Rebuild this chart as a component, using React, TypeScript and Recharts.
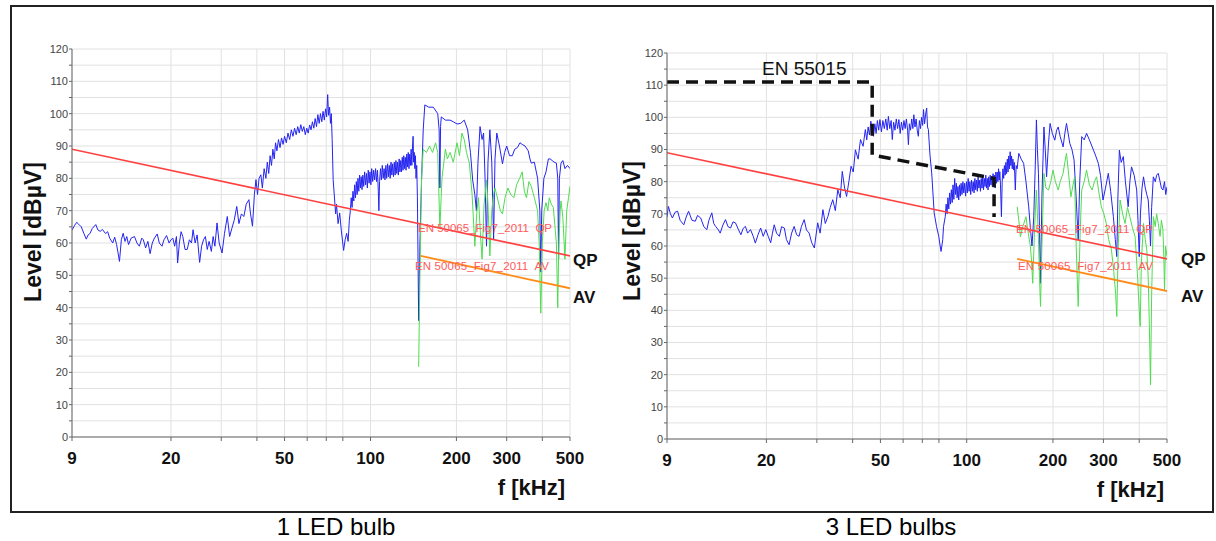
import React from 'react';
import { LineChart, Line, XAxis, YAxis, CartesianGrid } from 'recharts';

// axis ticks (kHz, dBµV)
const freqTicks = [9, 20, 30, 40, 50, 60, 70, 80, 100, 200, 300, 400, 500];
const freqLabels = [9, 20, 50, 100, 200, 300, 500];
const levelTicks = [0, 5, 10, 15, 20, 25, 30, 35, 40, 45, 50, 55, 60, 65, 70, 75, 80, 85, 90, 95, 100, 105, 110, 115, 120];
const levelLabels = [0, 10, 20, 30, 40, 50, 60, 70, 80, 90, 100, 110, 120];

// limit lines [kHz, dBµV]
const limitQp = [[9, 89], [500, 56]];
const limitAv = [[150, 56], [500, 46]];
const limitEn55015 = [[9, 111], [46.8, 111], [46.8, 88.3], [124.6, 81], [124.6, 69]];

// 1 LED bulb, peak trace
const oneBulbPeak = [
  [9.0, 64], [9.2, 65.5], [9.35, 66.4], [9.5, 65.8], [9.7, 65], [9.9, 63], [10.1, 61.2], [10.25, 62.5],
  [10.4, 62.9], [10.6, 64.5], [10.9, 65.7], [11.1, 64], [11.3, 63.6], [11.5, 64.2], [11.8, 62.9], [12.0, 63.5],
  [12.2, 61.5], [12.5, 60], [12.7, 61.8], [12.9, 59.5], [13.2, 54.3], [13.4, 61], [13.6, 63], [13.8, 60.5],
  [14.0, 62], [14.2, 59.5], [14.5, 61.5], [14.9, 62], [15.2, 60], [15.5, 59], [15.8, 61.5], [16.0, 61],
  [16.3, 58.5], [16.6, 60.5], [16.9, 56.7], [17.2, 60], [17.5, 61.5], [17.9, 62.8], [18.2, 60], [18.6, 59],
  [18.9, 61], [19.3, 62.3], [19.7, 60], [20.0, 61], [20.3, 61.5], [20.6, 59], [20.9, 62], [21.1, 53.8],
  [21.4, 60], [21.7, 63.5], [22.0, 62], [22.4, 58], [22.8, 58], [23.2, 61], [23.6, 60], [23.9, 64.1],
  [24.3, 60], [24.7, 62.5], [25.2, 54], [25.6, 59], [26.0, 61], [26.4, 62], [26.8, 58], [27.2, 60.5],
  [27.7, 57.4], [28.1, 62], [28.5, 59], [29.0, 66.2], [29.5, 60], [30.2, 56.9], [30.8, 63], [31.5, 68.2],
  [32.1, 62], [32.7, 64.6], [33.3, 67], [34.0, 71.3], [34.6, 66], [35.3, 69], [36.0, 68.2], [36.7, 72],
  [37.5, 73.4], [38.0, 69], [38.6, 65.2], [39.2, 75], [39.7, 79.6], [40.2, 75], [40.7, 80], [41.3, 81.1],
  [41.8, 77], [42.4, 83], [43.0, 80], [43.5, 85], [44.0, 81.5], [44.5, 87], [45.0, 84], [45.5, 89],
  [46.0, 86], [46.5, 91], [47.0, 88.5], [47.6, 92], [48.2, 89.5], [48.8, 92.5], [49.4, 90.5], [50.0, 93],
  [50.7, 91], [51.4, 94], [52.1, 92], [52.8, 95], [53.5, 93], [54.2, 95.5], [54.9, 93.5], [55.6, 96],
  [56.3, 94], [57.0, 96.6], [57.7, 94.5], [58.4, 96], [59.1, 93.5], [59.8, 95.5], [60.5, 94], [61.2, 96.5],
  [61.9, 95], [62.6, 97.5], [63.3, 95.5], [64.0, 98.5], [64.7, 96], [65.4, 99.7], [66.1, 97], [66.8, 100],
  [67.5, 97.5], [68.2, 100.7], [68.9, 98], [69.6, 101.5], [70.2, 99], [70.8, 105.9], [71.3, 99.5], [71.9, 102],
  [72.4, 97], [72.9, 100], [73.4, 92], [74.0, 79.6], [75.5, 69], [76.0, 72], [77.0, 66], [78.0, 69.3],
  [79.0, 64], [80.5, 57.7], [81.5, 61], [82.5, 63], [83.5, 60.5], [84.3, 67], [85.0, 70], [85.6, 74],
  [86.2, 71], [86.8, 76], [87.4, 73], [88.0, 78], [88.6, 74], [89.2, 79], [89.8, 75], [90.4, 80],
  [91.0, 76], [91.6, 81], [92.2, 77], [92.8, 80.5], [93.4, 76.5], [94.0, 81], [94.7, 77.5], [95.4, 82],
  [96.1, 78], [96.8, 81.5], [97.5, 77], [98.2, 82.5], [98.9, 78.5], [99.6, 82], [100.3, 78], [101.0, 83],
  [101.8, 79], [102.6, 82.5], [103.4, 79.5], [104.2, 83], [105.0, 79], [105.8, 82.5], [106.5, 76], [107.0, 70],
  [107.6, 79], [108.4, 83], [109.2, 79.5], [110.0, 84], [110.8, 80], [111.6, 83], [112.4, 79.5], [113.2, 84],
  [114.0, 80], [114.8, 84.5], [115.6, 80.5], [116.4, 84], [117.2, 80], [118.0, 85], [118.8, 81], [119.6, 84.5],
  [120.4, 80.5], [121.2, 85], [122.0, 81], [122.8, 85.5], [123.6, 81.5], [124.4, 85], [125.2, 81], [126.0, 86],
  [126.8, 82], [127.6, 85.5], [128.4, 82], [129.2, 86.5], [130.0, 82.5], [130.8, 87], [131.6, 83], [132.4, 86.5],
  [133.2, 82.5], [134.0, 87.5], [134.8, 83.5], [135.6, 88], [136.4, 83], [137.2, 87.5], [138.0, 84], [138.8, 89],
  [139.6, 84], [140.4, 90], [141.0, 93], [141.6, 85], [142.3, 88], [143.0, 83], [143.7, 87], [144.4, 80],
  [145.2, 84], [146.0, 74.3], [147.5, 36], [149.0, 60], [151.0, 79.5], [153.0, 95], [155.0, 102.7], [160.0, 102],
  [166.0, 102], [172.0, 100], [174.0, 95], [175.0, 77], [176.0, 96], [177.0, 99], [183.0, 98], [190.0, 98],
  [195.0, 97.5], [201.0, 96.8], [207.0, 97], [213.0, 98], [219.0, 95], [224.0, 88], [228.0, 79.5], [232.0, 75],
  [235.0, 70], [238.0, 85], [242.0, 96], [246.0, 92], [249.0, 94], [252.0, 80], [255.0, 59], [258.0, 85],
  [262.0, 95], [266.0, 85], [270.0, 61], [273.0, 86], [277.0, 94], [283.0, 90], [290.0, 84.5], [295.0, 88],
  [300.0, 90], [307.0, 87], [314.0, 87], [320.0, 89], [327.0, 89.5], [334.0, 91], [340.0, 90.5], [348.0, 90],
  [357.0, 88.5], [362.0, 86], [366.0, 84.7], [375.0, 85], [385.0, 80], [392.0, 70], [395.0, 51], [398.0, 70],
  [405.0, 80], [412.0, 82], [420.0, 86], [426.0, 86], [433.0, 85.5], [440.0, 85], [448.0, 84.7], [453.0, 80],
  [456.0, 55], [459.0, 80], [465.0, 84.7], [472.0, 85.5], [480.0, 83], [490.0, 84], [500.0, 83],
];

// 1 LED bulb, average trace
const oneBulbAvg = [
  [147.5, 21.7], [149.0, 50], [151.0, 80], [153.0, 89], [157.0, 88], [161.0, 90], [165.0, 88], [169.0, 91],
  [172.0, 88], [175.0, 64.5], [178.0, 80], [183.0, 89], [186.0, 86], [190.0, 88], [195.0, 85], [201.0, 91],
  [205.0, 87], [209.0, 94], [213.0, 92], [217.0, 88], [222.0, 84.7], [227.0, 75], [232.0, 59], [236.0, 70],
  [239.0, 74], [243.0, 62], [246.0, 55], [250.0, 72], [255.0, 79.5], [258.0, 72], [262.0, 56], [266.0, 70],
  [270.0, 75], [273.0, 77], [280.0, 73], [285.0, 70], [290.0, 69], [296.0, 74], [303.0, 77], [310.0, 75],
  [318.0, 74], [325.0, 78], [333.0, 80], [340.0, 82], [346.0, 76], [352.0, 74], [359.0, 79], [366.0, 77.5],
  [375.0, 74], [385.0, 70], [390.0, 60], [395.0, 38.3], [400.0, 60], [406.0, 70], [412.0, 72.5], [418.0, 70],
  [423.0, 74], [430.0, 72], [437.0, 71], [443.0, 65], [448.0, 60], [453.0, 40], [457.0, 60], [462.0, 70],
  [465.0, 73], [472.0, 68], [480.0, 55], [487.0, 70], [494.0, 74], [500.0, 77.5],
];

// 3 LED bulbs, peak trace
const threeBulbPeak = [
  [9.0, 69], [9.1, 72.3], [9.25, 70], [9.4, 68.7], [9.6, 70.5], [9.8, 70.8], [10.0, 68], [10.3, 66.6],
  [10.5, 69], [10.7, 70.8], [11.0, 68], [11.3, 67.7], [11.5, 69.5], [11.8, 68.7], [12.1, 66], [12.4, 65.1],
  [12.6, 68], [12.9, 70.3], [13.1, 67], [13.3, 66.1], [13.6, 65], [13.8, 64], [14.1, 66.5], [14.4, 68.2],
  [14.7, 66], [15.0, 65.6], [15.3, 67.5], [15.6, 67.2], [16.0, 65], [16.3, 63.5], [16.6, 65.5], [16.9, 66.1],
  [17.2, 64], [17.6, 65.1], [18.0, 63], [18.3, 60.9], [18.7, 63.5], [19.1, 65.6], [19.5, 63], [19.9, 65.1],
  [20.3, 63], [20.7, 61], [21.0, 64], [21.3, 66.6], [21.7, 64], [22.2, 63], [22.6, 66], [23.1, 65.6],
  [23.5, 62], [24.0, 60.4], [24.5, 64], [25.0, 66.1], [25.5, 63.5], [26.0, 63], [26.5, 66], [27.1, 68.2],
  [27.6, 65], [28.2, 64], [28.8, 61], [29.4, 59.4], [30.2, 67.2], [30.8, 64], [31.5, 71.3], [32.1, 67],
  [32.8, 69.2], [33.4, 72], [34.1, 74.4], [34.8, 71], [35.5, 77.5], [36.2, 75], [36.8, 83.2], [37.5, 78],
  [38.1, 75.4], [38.8, 80], [39.5, 84.8], [40.2, 83], [40.9, 89.9], [41.8, 87], [42.6, 93.1], [43.5, 91],
  [44.3, 96.2], [44.8, 93], [45.3, 97], [45.8, 94.5], [46.3, 98.8], [46.8, 95], [47.3, 94.1], [47.8, 98],
  [48.3, 95], [48.8, 99], [49.3, 96], [49.8, 99.3], [50.4, 95.5], [51.0, 99], [51.6, 96.5], [52.2, 99.5],
  [52.8, 96], [53.3, 100.3], [53.9, 96.5], [54.5, 99], [55.0, 93.1], [55.6, 98.5], [56.2, 96], [56.8, 99.5],
  [57.4, 96.5], [58.0, 99.3], [58.6, 95], [59.2, 98.5], [59.8, 96], [60.4, 99], [61.0, 96.5], [61.6, 99.5],
  [62.2, 96], [62.6, 91.5], [63.1, 98], [63.7, 96], [64.3, 99.5], [64.9, 96.5], [65.4, 100.8], [66.0, 97],
  [66.6, 99.5], [67.2, 96], [67.8, 94.1], [68.4, 99], [69.0, 96.5], [69.6, 100], [70.2, 97.5], [70.7, 102.4],
  [71.3, 98], [71.9, 101], [72.5, 102.9], [73.0, 97], [73.5, 96.2], [74.0, 92], [74.5, 88], [75.5, 82.7],
  [77.0, 70.3], [78.5, 66], [79.9, 63], [80.8, 60], [81.4, 58.3], [82.5, 62], [83.0, 66], [84.2, 69.2],
  [84.8, 73], [85.4, 70], [86.0, 75], [86.6, 71.5], [87.2, 76.5], [87.8, 73], [88.4, 77.5], [89.0, 73.5],
  [89.6, 79], [90.2, 74.5], [90.8, 81], [91.4, 76], [92.0, 79.5], [92.6, 75], [93.2, 78.5], [93.8, 74.3],
  [94.4, 79], [95.0, 75.5], [95.6, 79.5], [96.3, 76], [97.0, 80], [97.7, 76.5], [98.4, 79.5], [99.1, 75.5],
  [99.8, 80], [100.5, 76.5], [101.2, 81], [101.9, 77], [102.6, 80], [103.3, 76], [104.0, 80.5], [104.7, 77],
  [105.4, 80], [106.1, 76.5], [106.8, 81], [107.5, 77.5], [108.2, 80.5], [108.9, 77], [109.6, 81.5], [110.3, 78],
  [111.0, 80.5], [111.7, 77], [112.4, 81], [113.1, 78], [113.8, 81.5], [114.5, 77.5], [115.2, 81], [115.9, 78.5],
  [116.6, 82], [117.3, 78], [118.0, 81], [118.7, 77.4], [119.4, 81.5], [120.1, 78.5], [120.8, 82], [121.5, 79],
  [122.2, 81.5], [122.9, 78.5], [123.6, 82.5], [124.3, 79], [125.0, 82], [125.7, 78], [126.4, 83], [127.1, 79.5],
  [127.8, 83], [128.5, 80], [129.2, 84], [129.9, 80.5], [130.5, 83.1], [131.2, 79], [132.2, 69.1], [133.0, 80],
  [133.8, 84], [134.6, 81], [135.4, 85], [136.2, 82], [137.0, 86], [137.8, 82.5], [138.6, 87], [139.4, 83],
  [140.2, 88], [141.0, 84], [141.8, 89.3], [142.6, 85], [143.4, 88], [144.2, 84], [145.0, 87], [145.8, 83.6],
  [146.6, 86], [147.8, 77.4], [148.8, 85], [150.0, 84], [152.0, 88.8], [155.0, 87], [158.0, 85.7], [161.0, 80],
  [164.6, 72.2], [167.0, 65], [169.0, 60], [171.4, 69], [173.5, 85], [175.1, 99.2], [176.5, 90], [178.0, 82.6],
  [179.5, 65], [181.0, 48.4], [183.0, 75], [186.0, 97], [188.0, 90], [190.0, 81.5], [193.0, 92], [195.4, 98.1],
  [199.0, 95], [203.0, 92.9], [206.0, 96], [208.6, 97], [212.0, 94], [217.0, 90.8], [220.0, 95], [223.0, 98.1],
  [226.0, 95], [229.0, 91.9], [233.0, 90], [237.0, 86.7], [241.0, 75], [245.0, 61.9], [248.0, 80], [252.0, 94],
  [257.0, 93], [262.0, 95], [268.0, 93], [277.0, 89.8], [282.0, 88], [288.0, 85.7], [293.0, 82], [299.0, 74.3],
  [305.0, 78], [312.0, 82.6], [318.0, 77], [325.0, 69.1], [330.0, 62], [334.0, 56.7], [337.0, 75], [341.0, 89.8],
  [346.0, 86], [352.0, 87.8], [358.0, 80], [366.0, 72.2], [371.0, 80], [376.0, 84.6], [384.0, 82], [392.0, 77.4],
  [396.0, 68], [400.0, 56.7], [404.0, 70], [409.0, 78], [414.0, 81.5], [420.0, 78], [425.0, 76], [430.0, 74.3],
  [434.0, 68], [438.0, 60], [442.0, 72], [448.0, 81.5], [455.0, 80], [460.0, 82], [466.0, 82.6], [473.0, 80],
  [478.0, 78], [484.0, 77.4], [490.0, 80], [495.0, 76], [500.0, 78.4],
];

// 3 LED bulbs, average trace
const threeBulbAvg = [
  [150.0, 72.2], [152.0, 68], [154.0, 62.9], [157.0, 66], [161.0, 69.1], [164.0, 64], [166.8, 60], [168.5, 55],
  [170.0, 48.4], [172.5, 65], [175.0, 77.4], [176.5, 70], [178.0, 61.9], [179.5, 50], [181.0, 41.2], [183.0, 60],
  [186.0, 82.6], [189.0, 78], [193.0, 77.4], [196.5, 80], [200.0, 83.6], [204.0, 80], [208.6, 77.4], [212.0, 80],
  [217.0, 82.6], [220.0, 86], [223.0, 88.8], [227.0, 82], [231.0, 75.3], [235.0, 79], [238.0, 81.5], [241.0, 60],
  [245.0, 41.2], [249.0, 65], [252.0, 77.4], [257.0, 80], [262.0, 83.6], [268.0, 79], [274.0, 77.4], [279.0, 80],
  [284.0, 81.5], [290.0, 76], [295.0, 72.2], [301.0, 70], [307.0, 67], [313.0, 62], [320.0, 58.8], [326.0, 52],
  [331.0, 45], [334.0, 38.1], [338.0, 60], [343.0, 74.3], [350.0, 70], [357.0, 67], [364.0, 72], [371.0, 69.1],
  [378.0, 66], [387.0, 62.9], [395.0, 50], [400.0, 40], [403.0, 35], [407.0, 55], [414.0, 67], [420.0, 62],
  [425.0, 58.8], [430.0, 50], [434.0, 35], [438.0, 16.8], [442.0, 45], [448.0, 69.1], [455.0, 66], [460.0, 70],
  [466.0, 67], [473.0, 63], [478.0, 68], [484.0, 65], [488.0, 55], [490.0, 46.4], [494.0, 60], [500.0, 56.7],
];

const toPoints = (pairs: number[][]) => pairs.map(([f, level]) => ({ f, level }));

type PanelProps = {
  left: number;
  width: number;
  height: number;
  marginTop: number;
  marginRight: number;
  axisWidth: number;
  peak: number[][];
  avg: number[][];
  showEn55015?: boolean;
};

function SpectrumPanel({ left, width, height, marginTop, marginRight, axisWidth, peak, avg, showEn55015 }: PanelProps) {
  return (
    <div style={{ position: 'absolute', left, top: 0 }}>
      <LineChart width={width} height={height} margin={{ top: marginTop, right: marginRight, bottom: 0, left: 0 }}>
        <CartesianGrid stroke="#e1e1e1" strokeWidth={1} />
        <XAxis
          dataKey="f"
          type="number"
          scale="log"
          domain={[9, 500]}
          ticks={freqTicks}
          interval={0}
          allowDataOverflow
          height={73}
          tickFormatter={(v: number) => (freqLabels.includes(v) ? String(v) : '')}
          tick={{ fontSize: 17, fontWeight: 700, fill: '#111' }}
          tickSize={4}
          tickMargin={11}
          stroke="#666"
        />
        <YAxis
          type="number"
          domain={[0, 120]}
          ticks={levelTicks}
          interval={0}
          width={axisWidth}
          tickFormatter={(v: number) => (levelLabels.includes(v) ? String(v) : '')}
          tick={{ fontSize: 11, fill: '#444' }}
          tickSize={3}
          tickMargin={1}
          stroke="#666"
        />
        <Line data={toPoints(peak)} dataKey="level" type="linear" stroke="#2424f2" strokeWidth={1} dot={false} activeDot={false} isAnimationActive={false} />
        <Line data={toPoints(avg)} dataKey="level" type="linear" stroke="#4fdc4f" strokeWidth={1} dot={false} activeDot={false} isAnimationActive={false} />
        <Line data={toPoints(limitQp)} dataKey="level" type="linear" stroke="#ff4040" strokeWidth={1.6} dot={false} activeDot={false} isAnimationActive={false} />
        <Line data={toPoints(limitAv)} dataKey="level" type="linear" stroke="#ff8c1a" strokeWidth={1.8} dot={false} activeDot={false} isAnimationActive={false} />
        {showEn55015 && (
          <Line data={toPoints(limitEn55015)} dataKey="level" type="linear" stroke="#111" strokeWidth={3.5} strokeDasharray="12 7" dot={false} activeDot={false} isAnimationActive={false} />
        )}
      </LineChart>
    </div>
  );
}

const limitTextStyle = { fontSize: 11.5, fill: '#ff5a5a' };

export default function App() {
  return (
    <div
      style={{
        position: 'absolute',
        left: 0,
        top: 0,
        width: 1216,
        height: 541,
        background: '#fff',
        fontFamily: '"Liberation Sans", Arial, sans-serif',
      }}
    >
      <div
        style={{
          position: 'absolute',
          left: 10,
          top: 5,
          width: 1204,
          height: 508,
          border: '2px solid #222',
          boxSizing: 'border-box',
        }}
      />
      <SpectrumPanel left={0} width={600} height={510} marginTop={49} marginRight={30} axisWidth={72} peak={oneBulbPeak} avg={oneBulbAvg} />
      <SpectrumPanel left={600} width={600} height={512} marginTop={53} marginRight={33} axisWidth={67} peak={threeBulbPeak} avg={threeBulbAvg} showEn55015 />

      <svg width={1216} height={541} style={{ position: 'absolute', left: 0, top: 0, pointerEvents: 'none' }}>
        {/* left panel */}
        <text x={41} y={232} transform="rotate(-90 41 232)" textAnchor="middle" fontSize={23} fontWeight={700} fill="#111">Level [dBµV]</text>
        <text x={565} y={495} textAnchor="end" fontSize={22} fontWeight={700} fill="#111">f [kHz]</text>
        <text x={573} y={266} fontSize={17} fontWeight={700} fill="#111">QP</text>
        <text x={573} y={303} fontSize={17} fontWeight={700} fill="#111">AV</text>
        <text x={418} y={232} textLength={134} style={{ ...limitTextStyle, whiteSpace: 'pre' }}>EN 50065_Fig7_2011  QP</text>
        <text x={415} y={270} textLength={134} style={{ ...limitTextStyle, whiteSpace: 'pre' }}>EN 50065_Fig7_2011  AV</text>
        <text x={336} y={535} textAnchor="middle" fontSize={24} fill="#000">1 LED bulb</text>

        {/* right panel */}
        <text x={640} y={231} transform="rotate(-90 640 231)" textAnchor="middle" fontSize={23} fontWeight={700} fill="#111">Level [dBµV]</text>
        <text x={1164} y={497} textAnchor="end" fontSize={22} fontWeight={700} fill="#111">f [kHz]</text>
        <text x={1181} y={265} fontSize={17} fontWeight={700} fill="#111">QP</text>
        <text x={1181} y={302} fontSize={17} fontWeight={700} fill="#111">AV</text>
        <text x={1016} y={233} textLength={137} style={{ ...limitTextStyle, whiteSpace: 'pre' }}>EN 50065_Fig7_2011  QP</text>
        <text x={1018} y={270} textLength={135} style={{ ...limitTextStyle, whiteSpace: 'pre' }}>EN 50065_Fig7_2011  AV</text>
        <text x={762} y={75} fontSize={19} fill="#111">EN 55015</text>
        <text x={891} y={535} textAnchor="middle" fontSize={24} fill="#000">3 LED bulbs</text>
      </svg>
    </div>
  );
}
